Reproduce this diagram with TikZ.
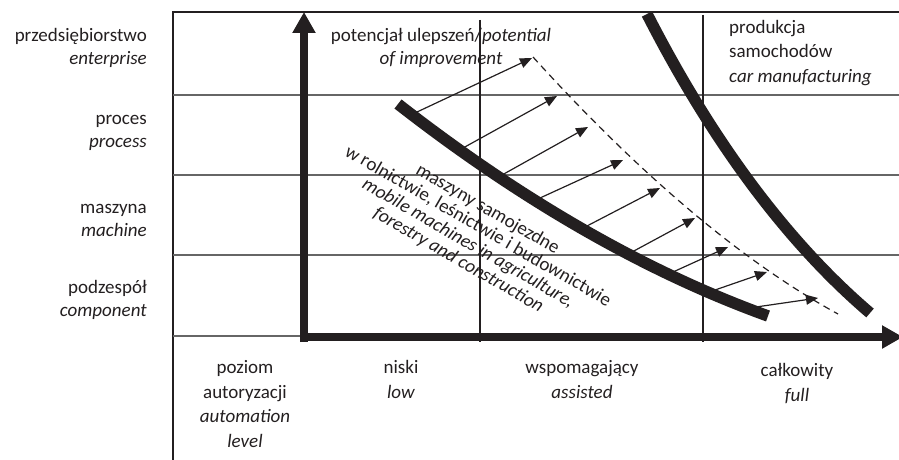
\documentclass[tikz,border=0pt]{standalone}
\usepackage{fontspec}
\setmainfont{Carlito}
\usetikzlibrary{arrows.meta}
\definecolor{ink}{HTML}{231F20}

\begin{document}
\begin{tikzpicture}[x=1pt, y=-1pt, ink,
  every node/.style={font=\fontsize{19}{23}\selectfont, text=ink, inner sep=0pt},
  wide/.style={font=\fontsize{19}{24.5}\selectfont},
  grid/.style={black!60, line width=1.2pt},
  axis/.style={line width=7.5pt, -{Triangle[length=21pt, width=22pt]}},
  curve/.style={line width=11.5pt},
  impr/.style={line width=1.2pt, -{Triangle[length=12pt, width=10pt]}}]
  \useasboundingbox (0,0) rectangle (899,460);

  % frame, levels and columns
  \draw[line width=1.2pt] (899,12) -- (173,12) -- (173,460);
  \foreach \y in {95,175,255} \draw[grid] (173,\y) -- (899,\y);
  \draw[grid] (173,336) -- (304,336);
  \draw[line width=1.2pt] (480,20) -- (480,342);
  \draw[line width=1.2pt] (703,15) -- (703,342);

  % axes
  \coordinate (Ybot) at (304,342);
  \coordinate (Ytop) at (304,12);
  \coordinate (Xbeg) at (300.5,337);
  \coordinate (Xend) at (903,337);
  \draw[axis] (Ybot) -- (Ytop);
  \draw[axis] (Xbeg) -- (Xend);

  % level of integration (base = last line)
  \node[anchor=base east, align=right] (ent) at (147,64) {przedsiębiorstwo\\\textit{enterprise}};
  \node[anchor=base east, align=right] (proc) at (147,147) {proces\\\textit{process}};
  \node[anchor=base east, align=right] (mach) at (147,236) {maszyna\\\textit{machine}};
  \node[anchor=base east, align=right] (comp) at (147,316) {podzespół\\\textit{component}};

  % automation level
  \node[wide, anchor=base, align=center] (autlvl) at (245,447) {poziom\\autoryzacji\\\textit{automation}\\\textit{level}};
  \node[wide, anchor=base, align=center] (low) at (401,398) {niski\\\textit{low}};
  \node[wide, anchor=base, align=center] (assist) at (582,398) {wspomagający\\\textit{assisted}};
  \node[wide, anchor=base, align=center] (full) at (797,401) {całkowity\\\textit{full}};

  % curves
  \coordinate (m1) at (398,104);
  \coordinate (m2) at (768,316);
  \draw[curve] (m1) .. controls (521,200) and (646,272) .. (m2);
  \coordinate (c1) at (647,14);
  \coordinate (c2) at (870,313);
  \draw[curve] (c1) .. controls (713,143) and (788,243) .. (c2);
  \coordinate (d1) at (533,57);
  \coordinate (d2) at (838,314);
  \draw[line width=1.2pt, dash pattern=on 7pt off 5pt] (d1) .. controls (641,176) and (743,262) .. (d2);

  % potential of improvement
  \foreach \i/\sx/\sy/\tx/\ty in {1/417/112/532/58, 2/463/148/557/96, 3/502/175/588/127,
      4/540/198/623/160, 5/585/227/660/188, 6/632/252/695/218,
      7/673/272/728/247, 8/715/290/767/272, 9/756/307/818/298} {
    \coordinate (s\i) at (\sx,\sy);
    \coordinate (t\i) at (\tx,\ty);
    \draw[impr] (s\i) -- (t\i);
  }

  \node[anchor=base, align=center] (pot) at (441,64) {potencjał ulepszeń/\textit{potential}\\\textit{of improvement}};
  \node[wide, anchor=base west, align=left] (car) at (729,82) {produkcja\\samochodów\\\textit{car manufacturing}};
  \node[rotate=-30, align=center, font=\fontsize{19}{19.5}\selectfont] (mobile) at (473,235)
    {maszyny samojezdne\\w rolnictwie, leśnictwie i budownictwie\\\textit{mobile machines in agriculture,}\\\textit{forestry and construction}};
\end{tikzpicture}
\end{document}
